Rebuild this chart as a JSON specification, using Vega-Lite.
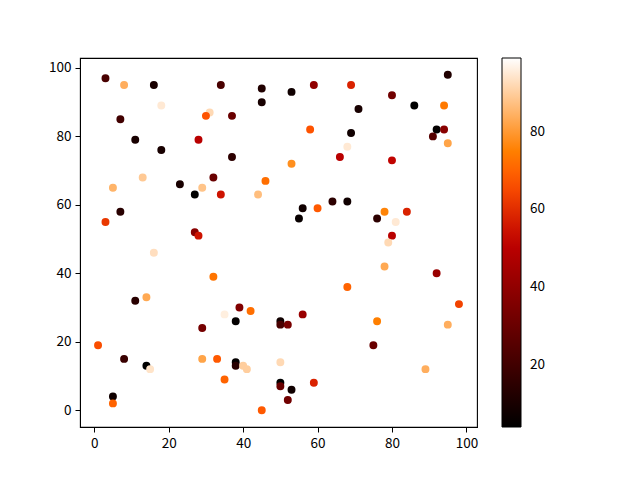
{
  "$schema": "https://vega.github.io/schema/vega-lite/v6.json",
  "width": 397,
  "height": 369,
  "autosize": {"type": "none"},
  "padding": {"left": 80, "top": 58, "right": 163, "bottom": 53},
  "background": "white",
  "config": {
    "view": {"stroke": "black", "strokeWidth": 1.1},
    "font": "Noto Sans CJK SC",
    "axis": {
      "grid": false,
      "domainColor": "black",
      "tickColor": "black",
      "labelColor": "black",
      "labelFont": "Noto Sans CJK SC",
      "labelFontSize": 13.5,
      "tickSize": 5,
      "labelPadding": 4,
      "title": null
    }
  },
  "data": {
    "values": [
      {"x": 3, "y": 97, "c": 22}, {"x": 8, "y": 95, "c": 84}, {"x": 16, "y": 95, "c": 10},
      {"x": 34, "y": 95, "c": 22}, {"x": 45, "y": 94, "c": 12}, {"x": 45, "y": 90, "c": 10},
      {"x": 18, "y": 89, "c": 95}, {"x": 31, "y": 87, "c": 92}, {"x": 30, "y": 86, "c": 67},
      {"x": 37, "y": 86, "c": 30}, {"x": 7, "y": 85, "c": 20}, {"x": 11, "y": 79, "c": 10},
      {"x": 28, "y": 79, "c": 50}, {"x": 18, "y": 76, "c": 10}, {"x": 37, "y": 74, "c": 15},
      {"x": 13, "y": 68, "c": 89}, {"x": 32, "y": 68, "c": 30}, {"x": 46, "y": 67, "c": 72},
      {"x": 5, "y": 65, "c": 85}, {"x": 23, "y": 66, "c": 10}, {"x": 29, "y": 65, "c": 88},
      {"x": 27, "y": 63, "c": 4}, {"x": 34, "y": 63, "c": 55}, {"x": 44, "y": 63, "c": 87},
      {"x": 7, "y": 58, "c": 14}, {"x": 3, "y": 55, "c": 62}, {"x": 27, "y": 52, "c": 38},
      {"x": 28, "y": 51, "c": 55},
      {"x": 95, "y": 98, "c": 12}, {"x": 53, "y": 93, "c": 8}, {"x": 59, "y": 95, "c": 40},
      {"x": 69, "y": 95, "c": 58}, {"x": 80, "y": 92, "c": 32}, {"x": 71, "y": 88, "c": 10},
      {"x": 86, "y": 89, "c": 4}, {"x": 94, "y": 89, "c": 74}, {"x": 58, "y": 82, "c": 67},
      {"x": 69, "y": 81, "c": 8}, {"x": 92, "y": 82, "c": 5}, {"x": 94, "y": 82, "c": 38},
      {"x": 91, "y": 80, "c": 25}, {"x": 95, "y": 78, "c": 82}, {"x": 68, "y": 77, "c": 95},
      {"x": 66, "y": 74, "c": 50}, {"x": 80, "y": 73, "c": 52}, {"x": 53, "y": 72, "c": 78},
      {"x": 56, "y": 59, "c": 8}, {"x": 60, "y": 59, "c": 68}, {"x": 64, "y": 61, "c": 15},
      {"x": 68, "y": 61, "c": 8}, {"x": 55, "y": 56, "c": 6}, {"x": 78, "y": 58, "c": 76},
      {"x": 84, "y": 58, "c": 58}, {"x": 76, "y": 56, "c": 15}, {"x": 81, "y": 55, "c": 95},
      {"x": 80, "y": 51, "c": 50}, {"x": 79, "y": 49, "c": 92},
      {"x": 16, "y": 46, "c": 93}, {"x": 32, "y": 39, "c": 73}, {"x": 11, "y": 32, "c": 14},
      {"x": 14, "y": 33, "c": 83}, {"x": 39, "y": 30, "c": 36}, {"x": 42, "y": 29, "c": 72},
      {"x": 35, "y": 28, "c": 96}, {"x": 38, "y": 26, "c": 5}, {"x": 50, "y": 26, "c": 8},
      {"x": 50, "y": 25, "c": 22}, {"x": 52, "y": 25, "c": 34}, {"x": 29, "y": 24, "c": 33},
      {"x": 1, "y": 19, "c": 66}, {"x": 8, "y": 15, "c": 18}, {"x": 14, "y": 13, "c": 4},
      {"x": 15, "y": 12, "c": 94}, {"x": 29, "y": 15, "c": 82}, {"x": 33, "y": 15, "c": 68},
      {"x": 38, "y": 14, "c": 5}, {"x": 38, "y": 13, "c": 14}, {"x": 40, "y": 13, "c": 90},
      {"x": 41, "y": 12, "c": 90}, {"x": 35, "y": 9, "c": 70}, {"x": 50, "y": 14, "c": 92},
      {"x": 50, "y": 8, "c": 4}, {"x": 50, "y": 7, "c": 30}, {"x": 5, "y": 4, "c": 8},
      {"x": 5, "y": 2, "c": 70}, {"x": 45, "y": 0, "c": 68},
      {"x": 78, "y": 42, "c": 83}, {"x": 92, "y": 40, "c": 42}, {"x": 68, "y": 36, "c": 70},
      {"x": 98, "y": 31, "c": 64}, {"x": 56, "y": 28, "c": 42}, {"x": 76, "y": 26, "c": 75},
      {"x": 95, "y": 25, "c": 84}, {"x": 75, "y": 19, "c": 30}, {"x": 89, "y": 12, "c": 84},
      {"x": 59, "y": 8, "c": 58}, {"x": 53, "y": 6, "c": 8}, {"x": 52, "y": 3, "c": 32}
    ]
  },
  "mark": {"type": "circle", "size": 63, "opacity": 1},
  "encoding": {
    "x": {
      "field": "x", "type": "quantitative",
      "scale": {"domain": [-3.85, 102.85], "nice": false, "zero": false},
      "axis": {"values": [0, 20, 40, 60, 80, 100]}
    },
    "y": {
      "field": "y", "type": "quantitative",
      "scale": {"domain": [-4.9, 102.9], "nice": false, "zero": false},
      "axis": {"values": [0, 20, 40, 60, 80, 100]}
    },
    "color": {
      "field": "c", "type": "quantitative",
      "scale": {
        "domain": [4, 99],
        "nice": false,
        "zero": false,
        "interpolate": "rgb",
        "range": ["#000000", "#200000", "#400000", "#600000", "#800000", "#9f0000", "#bf0000", "#df2a00", "#ff5500", "#ff8000", "#ffaa55", "#ffd4aa", "#ffffff"]
      },
      "legend": {
        "orient": "none",
        "legendX": 422,
        "legendY": 0,
        "direction": "vertical",
        "title": null,
        "gradientLength": 369,
        "gradientThickness": 19,
        "gradientStrokeColor": "black",
        "gradientStrokeWidth": 1,
        "values": [20, 40, 60, 80],
        "labelFont": "Noto Sans CJK SC",
        "labelFontSize": 13.5,
        "labelColor": "black",
        "labelOffset": 9
      }
    }
  }
}
